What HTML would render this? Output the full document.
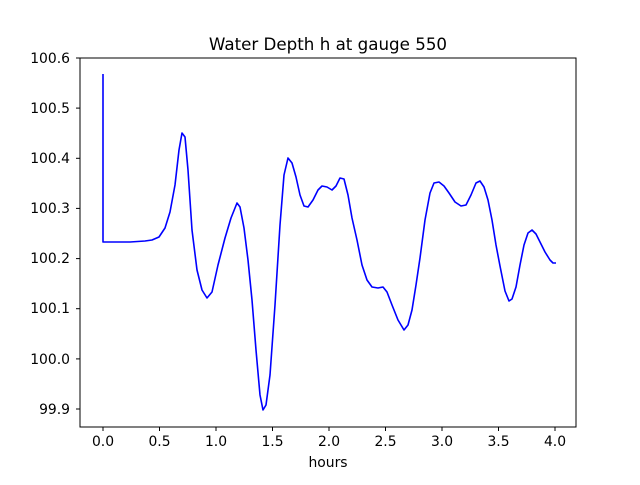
<!DOCTYPE html>
<html><head><style>body{margin:0;background:#fff}svg text{font-family:"DejaVu Sans","Liberation Sans",sans-serif;font-size:13.9px;fill:#000}</style></head>
<body>
<svg width="640" height="480" viewBox="0 0 640 480" xmlns="http://www.w3.org/2000/svg">
<rect width="640" height="480" fill="#fff"/>
<text x="328" y="50" text-anchor="middle" style="font-size:16.7px">Water Depth h at gauge 550</text>
<polyline fill="none" stroke="#0000ff" stroke-width="1.6" stroke-linejoin="round" points="103,74 103,242 130,242 145,241 152,240 159,237 165,228 170,212 175,185 179,150 182,133 185,137 188,170 192,230 197,270 202,290 207,298 212,292 218,265 225,238 231,218 237,203 240,207 244,228 248,260 252,300 256,350 260,395 263,410 266,405 270,375 275,305 280,225 284,175 288,158 292,163 296,177 300,195 304,206 308,207 313,200 318,190 322,186 327,187 332,190 336,186 340,178 344,179 348,195 352,218 357,240 362,265 367,280 372,287 378,288 383,287 387,292 392,305 398,320 404,330 408,325 412,310 416,285 420,258 425,220 430,193 434,183 439,182 444,186 449,193 455,202 461,206 466,205 471,195 476,183 480,181 484,187 488,200 492,220 496,245 500,266 505,291 509,301 512,299 516,287 520,265 524,245 528,233 532,230 536,234 540,242 545,252 550,260 553,263 556,263"/>
<rect x="80" y="58" width="496" height="369" fill="none" stroke="#000" stroke-width="1"/>
<g stroke="#000" stroke-width="1">
<line x1="103" y1="427" x2="103" y2="431"/><line x1="159.5" y1="427" x2="159.5" y2="431"/><line x1="216" y1="427" x2="216" y2="431"/><line x1="272.5" y1="427" x2="272.5" y2="431"/><line x1="329" y1="427" x2="329" y2="431"/><line x1="385.5" y1="427" x2="385.5" y2="431"/><line x1="442" y1="427" x2="442" y2="431"/><line x1="498.5" y1="427" x2="498.5" y2="431"/><line x1="555" y1="427" x2="555" y2="431"/>
<line x1="76" y1="58" x2="80" y2="58"/><line x1="76" y1="108.1" x2="80" y2="108.1"/><line x1="76" y1="158.3" x2="80" y2="158.3"/><line x1="76" y1="208.4" x2="80" y2="208.4"/><line x1="76" y1="258.6" x2="80" y2="258.6"/><line x1="76" y1="308.7" x2="80" y2="308.7"/><line x1="76" y1="358.9" x2="80" y2="358.9"/><line x1="76" y1="409" x2="80" y2="409"/>
</g>
<g text-anchor="middle">
<text x="103" y="446">0.0</text><text x="159.5" y="446">0.5</text><text x="216" y="446">1.0</text><text x="272.5" y="446">1.5</text><text x="329" y="446">2.0</text><text x="385.5" y="446">2.5</text><text x="442" y="446">3.0</text><text x="498.5" y="446">3.5</text><text x="555" y="446">4.0</text>
<text x="328" y="467">hours</text>
</g>
<g text-anchor="end">
<text x="70" y="63">100.6</text><text x="70" y="113">100.5</text><text x="70" y="163">100.4</text><text x="70" y="213">100.3</text><text x="70" y="263">100.2</text><text x="70" y="313">100.1</text><text x="70" y="364">100.0</text><text x="70" y="414">99.9</text>
</g>
</svg>
</body></html>
